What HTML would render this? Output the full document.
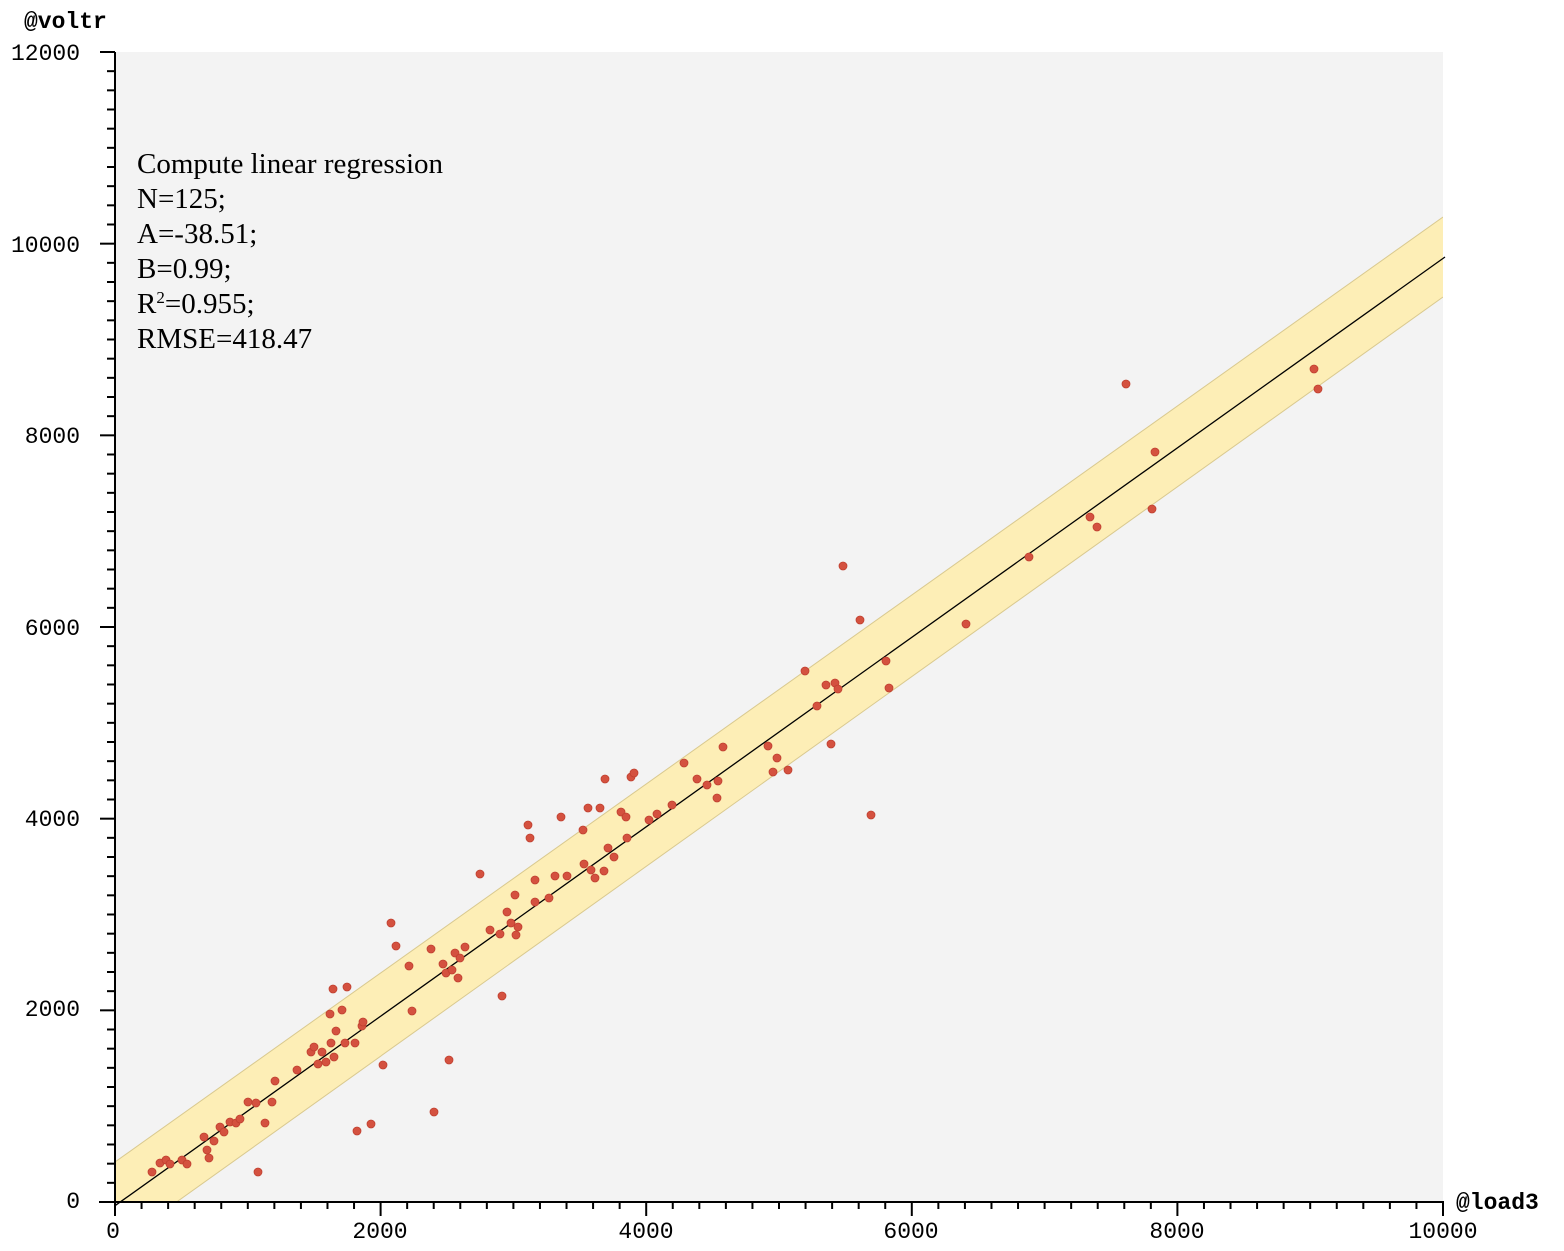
<!DOCTYPE html>
<html><head><meta charset="utf-8"><style>
html,body{margin:0;padding:0;background:#fff;}
svg{display:block;}
.t{font-family:"Liberation Mono","DejaVu Sans Mono",monospace;font-size:23px;fill:#000;}
.r{font-family:"Liberation Serif",serif;font-size:29px;fill:#000;}
</style></head><body>
<svg id="s" width="1564" height="1251" viewBox="0 0 1564 1251" xmlns="http://www.w3.org/2000/svg">
<defs><clipPath id="c"><rect x="115" y="52" width="1328" height="1150"/></clipPath></defs>
<rect x="115" y="52" width="1328" height="1150" fill="#f3f3f3"/>
<g clip-path="url(#c)">
<polygon points="115,1162 1443,217 1443,297 115,1246" fill="#fdeeb6"/>
<line x1="115" y1="1162" x2="1443" y2="217" stroke="#d9c98f" stroke-width="1"/>
<line x1="115" y1="1246" x2="1443" y2="297" stroke="#d9c98f" stroke-width="1"/>
</g>
<line x1="115" y1="1205.7" x2="1445" y2="257" stroke="#000" stroke-width="1.3"/>
<g id="pts" fill="#d4513f" stroke="#c04030" stroke-width="0.8"></g>
<g id="ax" stroke="#000" stroke-width="2" fill="none"></g>
<text class="t" x="24" y="28" font-weight="bold">@voltr</text>
<text class="t" x="1456" y="1209" font-weight="bold">@load3</text>
<g class="t" text-anchor="end">
<text x="80" y="60">12000</text>
<text x="80" y="252">10000</text>
<text x="80" y="443">8000</text>
<text x="80" y="635">6000</text>
<text x="80" y="826">4000</text>
<text x="80" y="1016">2000</text>
<text x="80" y="1208">0</text>
</g>
<g class="t" text-anchor="middle">
<text x="113" y="1238">0</text>
<text x="380" y="1238">2000</text>
<text x="646" y="1238">4000</text>
<text x="911" y="1238">6000</text>
<text x="1177" y="1238">8000</text>
<text x="1443" y="1238">10000</text>
</g>
<g class="r">
<text x="137" y="173">Compute linear regression</text>
<text x="137" y="208">N=125;</text>
<text x="137" y="243">A=-38.51;</text>
<text x="137" y="278">B=0.99;</text>
<text x="137" y="313">R<tspan font-size="17" dy="-10">2</tspan><tspan dy="10">=0.955;</tspan></text>
<text x="137" y="348">RMSE=418.47</text>
</g>
</svg>
<script>
var ns="http://www.w3.org/2000/svg";
function el(p,t,a){var e=document.createElementNS(ns,t);for(var k in a)e.setAttribute(k,a[k]);p.appendChild(e);return e;}
var ax=document.getElementById("ax");
el(ax,"line",{x1:115,y1:52,x2:115,y2:1203});
el(ax,"line",{x1:99,y1:1202,x2:1444,y2:1202});
for(var i=0;i<=60;i++){var y=1202-i*1150/60;var maj=i%10==0;el(ax,"line",{x1:maj?100:107,y1:y,x2:115,y2:y});}
for(var i=0;i<=50;i++){var x=115+i*1328/50;var maj=i%10==0;el(ax,"line",{x1:x,y1:1202,x2:x,y2:maj?1216:1209});}
var P=[[152,1172],[160,1163],[166,1160],[170,1164],[182,1160],[187,1164],[204,1137],[207,1150],[209,1158],[214,1141],[220,1127],[224,1132],[230,1122],[236,1123],[240,1119],[248,1102],[256,1103],[258,1172],[265,1123],[272,1102],[275,1081],[297,1070],[311,1052],[314,1047],[318,1064],[322,1052],[326,1062],[330,1014],[331,1043],[333,989],[334,1057],[336,1031],[342,1010],[345,1043],[347,987],[355,1043],[357,1131],[362,1026],[363,1022],[371,1124],[383,1065],[391,923],[396,946],[409,966],[412,1011],[431,949],[434,1112],[443,964],[446,973],[449,1060],[452,970],[455,953],[458,978],[460,958],[465,947],[480,874],[490,930],[500,934],[502,996],[507,912],[511,923],[515,895],[516,935],[518,927],[528,825],[530,838],[535,880],[535,902],[549,898],[555,876],[561,817],[567,876],[583,830],[584,864],[588,808],[591,870],[595,878],[600,808],[604,871],[605,779],[608,848],[614,857],[621,812],[626,817],[627,838],[631,777],[634,773],[649,820],[657,814],[672,805],[684,763],[697,779],[707,785],[717,798],[718,781],[723,747],[768,746],[773,772],[777,758],[788,770],[805,671],[817,706],[826,685],[831,744],[835,683],[838,689],[843,566],[860,620],[871,815],[886,661],[889,688],[966,624],[1029,557],[1090,517],[1097,527],[1126,384],[1152,509],[1155,452],[1314,369],[1318,389]];
var g=document.getElementById("pts");
P.forEach(function(p){el(g,"circle",{cx:p[0],cy:p[1],r:4});});
</script>
</body></html>
